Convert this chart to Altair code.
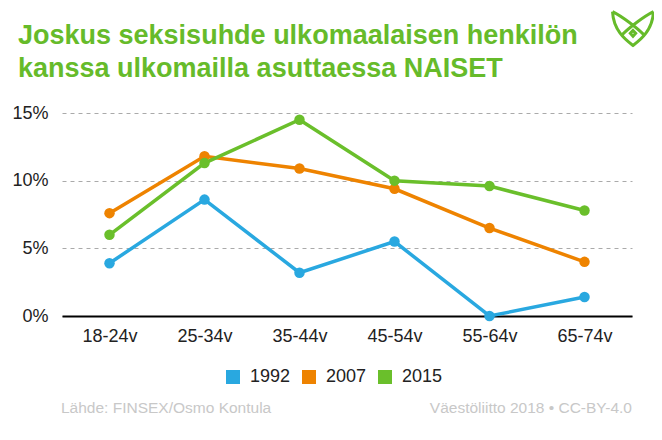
import altair as alt
import pandas as pd

categories = ["18-24v", "25-34v", "35-44v", "45-54v", "55-64v", "65-74v"]
years = ["1992", "2007", "2015"]
values_1992 = [3.9, 8.6, 3.2, 5.5, 0.0, 1.4]
values_2007 = [7.6, 11.8, 10.9, 9.4, 6.5, 4.0]
values_2015 = [6.0, 11.3, 14.5, 10.0, 9.6, 7.8]
colors = ["#29a8e0", "#ee8300", "#6abf2b"]
title_lines = ["Joskus seksisuhde ulkomaalaisen henkilön", "kanssa ulkomailla asuttaessa NAISET"]
source_text = "Lähde: FINSEX/Osmo Kontula"
credit_text = "Väestöliitto 2018 • CC-BY-4.0"

rows = []
for year, vals in zip(years, [values_1992, values_2007, values_2015]):
    for c, v in zip(categories, vals):
        rows.append({"ika": c, "vuosi": year, "arvo": v})
df = pd.DataFrame(rows)

FONT = "Liberation Sans"
GREEN = "#66bb2a"

x = alt.X("ika:N", sort=categories, title=None,
          scale=alt.Scale(padding=0.5),
          axis=alt.Axis(labelAngle=0, labelFontSize=18, labelColor="#222222",
                        labelPadding=11, ticks=False, domainColor="#000000",
                        domainWidth=2, grid=False, labelFont=FONT))
y = alt.Y("arvo:Q", title=None,
          scale=alt.Scale(domain=[0, 15], nice=False),
          axis=alt.Axis(values=[0, 5, 10, 15], labelExpr="datum.value + '%'",
                        labelFontSize=18, labelColor="#222222", labelPadding=14,
                        ticks=False, domain=False, grid=True, gridColor="#aaaaaa",
                        gridDash=[4, 4], gridWidth=1, labelFont=FONT))
color = alt.Color("vuosi:N", sort=years,
                  scale=alt.Scale(domain=years, range=colors),
                  legend=alt.Legend(title=None, orient="none", direction="horizontal",
                                    legendX=162, legendY=255, symbolType="square",
                                    symbolSize=196, symbolStrokeWidth=0,
                                    symbolOpacity=1, labelFontSize=18,
                                    labelColor="#222222", labelFont=FONT,
                                    labelOffset=8, columnPadding=9, padding=0))

base = alt.Chart(df)
lines = base.mark_line(strokeWidth=3.5).encode(x=x, y=y, color=color)
points = base.mark_circle(size=110, opacity=1).encode(x=x, y=y, color=color)

one = alt.Chart(pd.DataFrame({"a": [0]}))
t1 = one.mark_text(text=title_lines[0], align="left", baseline="alphabetic",
                   font=FONT, fontSize=27, fontWeight="bold", color=GREEN).encode(
    x=alt.value(-44), y=alt.value(-69))
t2 = one.mark_text(text=title_lines[1], align="left", baseline="alphabetic",
                   font=FONT, fontSize=27, fontWeight="bold", color=GREEN).encode(
    x=alt.value(-44), y=alt.value(-36))
src = one.mark_text(text=source_text, align="left", baseline="alphabetic",
                    font=FONT, fontSize=15.5, color="#c8c8c8").encode(
    x=alt.value(-1), y=alt.value(300))
cred = one.mark_text(text=credit_text, align="right", baseline="alphabetic",
                     font=FONT, fontSize=15.5, color="#c8c8c8").encode(
    x=alt.value(570), y=alt.value(300))
logo_path = ("M-1,-0.8 C-0.95,0.1 -0.4,0.55 0,0.85 C0.4,0.55 0.95,0.1 1,-0.8 "
             "M-1,-0.8 C-0.5,-0.55 0.2,0 0.5,0.3 "
             "M1,-0.8 C0.5,-0.55 -0.2,0 -0.5,0.3 "
             "M0,0.12 L0.13,0.26 L0,0.4 L-0.13,0.26 Z")
logo = one.mark_point(shape=logo_path, filled=False, size=1681, strokeWidth=3,
                      color=GREEN, opacity=1).encode(x=alt.value(571), y=alt.value(-85))

chart = alt.layer(lines, points, t1, t2, src, cred, logo).properties(
    width=570, height=203,
    autosize=alt.AutoSizeParams(type="none"),
    padding={"left": 54, "top": 105, "right": 22, "bottom": 116},
    background="white",
).configure(font=FONT, view=alt.ViewConfig(stroke=None))

chart.save("out.html", embed_options={"renderer": "svg", "actions": False})
